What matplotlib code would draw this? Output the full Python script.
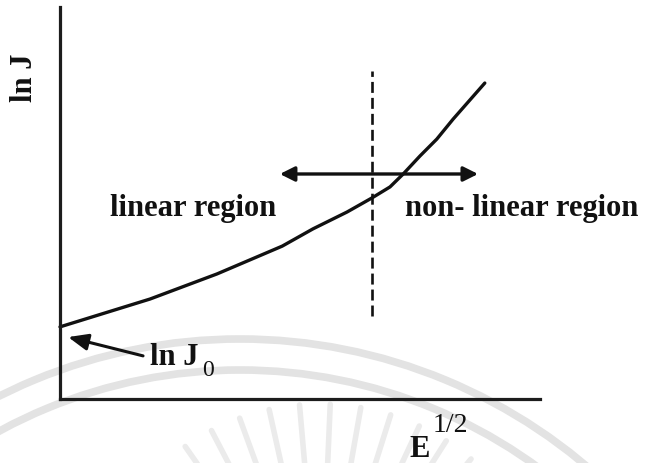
import numpy as np
import matplotlib
matplotlib.use("Agg")
import matplotlib.pyplot as plt
from matplotlib.patches import Arc

plt.rcParams["font.family"] = ["Liberation Serif", "DejaVu Serif"]
plt.rcParams["lines.scale_dashes"] = False

# ln J versus E^(1/2): Schottky-type emission curve (arbitrary units)
sqrt_e = [0.0, 1.875, 3.27, 4.63, 5.27, 5.98, 6.5, 6.875, 7.15, 7.5, 7.85, 8.19, 8.85]
ln_j = [1.84, 2.55, 3.19, 3.90, 4.34, 4.77, 5.13, 5.41, 5.74, 6.20, 6.63, 7.14, 8.06]

boundary_x = 6.5             # split between the linear and non-linear regions
boundary_span = (2.12, 8.37)
arrow_y = 5.74
arrow_span = (4.58, 8.71)

region_labels = ["linear region", "non- linear region"]
region_label_x = [1.04, 7.19]
region_label_y = 4.69

W, H = 650, 464
fig = plt.figure(figsize=(W / 100, H / 100), dpi=100)

# faint emblem in the background
bg = fig.add_axes([0, 0, 1, 1], zorder=-5)
bg.set_xlim(0, W)
bg.set_ylim(H, 0)
bg.axis("off")
for r in (536, 505):
    bg.add_patch(Arc((240, 876), 2 * r, 2 * r, theta1=0, theta2=360,
                     color="#e3e3e3", lw=5.5))
cx, cy = 320, 640
for ang in np.arange(35, 146, 7.5):
    t = np.deg2rad(ang)
    r0, r1 = 160, 235
    bg.plot([cx + r0 * np.cos(t), cx + r1 * np.cos(t)],
            [cy - r0 * np.sin(t), cy - r1 * np.sin(t)],
            color="#ebebeb", lw=4.0, solid_capstyle="round")

ax = fig.add_axes([60 / W, 1 - 400 / H, 480 / W, 392 / H])
ax.set_facecolor("none")
ax.set_xlim(0, 10)
ax.set_ylim(0, 10)
for side in ("top", "right"):
    ax.spines[side].set_visible(False)
for side in ("left", "bottom"):
    ax.spines[side].set_linewidth(2.3)
    ax.spines[side].set_color("#1c1c1c")
ax.set_xticks([])
ax.set_yticks([])

ax.plot(sqrt_e, ln_j, color="#111111", lw=2.4, solid_capstyle="round",
        solid_joinstyle="round", clip_on=False)

ax.plot([boundary_x, boundary_x], boundary_span, color="#111111", lw=1.9,
        dashes=(7.9, 3.6), clip_on=False)

ax.annotate("", xy=(arrow_span[0], arrow_y), xytext=(arrow_span[1], arrow_y),
            arrowprops=dict(arrowstyle="<|-|>", mutation_scale=22, lw=2.4,
                            color="#111111", shrinkA=0, shrinkB=0))

for lab, x in zip(region_labels, region_label_x):
    ax.text(x, region_label_y, lab, fontsize=22, fontweight="bold",
            ha="left", va="baseline", color="#111111")

# intercept label
ax.annotate("", xy=(0.17, 1.58), xytext=(1.73, 1.10),
            arrowprops=dict(arrowstyle="-|>,head_length=0.6,head_width=0.25",
                            mutation_scale=20, lw=2.2, color="#111111",
                            shrinkA=0, shrinkB=0))
ax.text(1.875, 0.90, "ln J", fontsize=22, fontweight="bold",
        ha="left", va="baseline", color="#111111")
ax.text(2.96, 0.60, "0", fontsize=17, ha="left", va="baseline", color="#111111")

# axis titles
ax.text(-0.73, 8.21, "ln J", fontsize=22, fontweight="bold", rotation=90,
        ha="center", va="center", color="#111111")
ax.text(7.29, -1.45, "E", fontsize=22, fontweight="bold",
        ha="left", va="baseline", color="#111111")
ax.text(7.77, -0.82, "1/2", fontsize=20, ha="left", va="baseline", color="#111111")

fig.savefig("out.png", dpi=100)
